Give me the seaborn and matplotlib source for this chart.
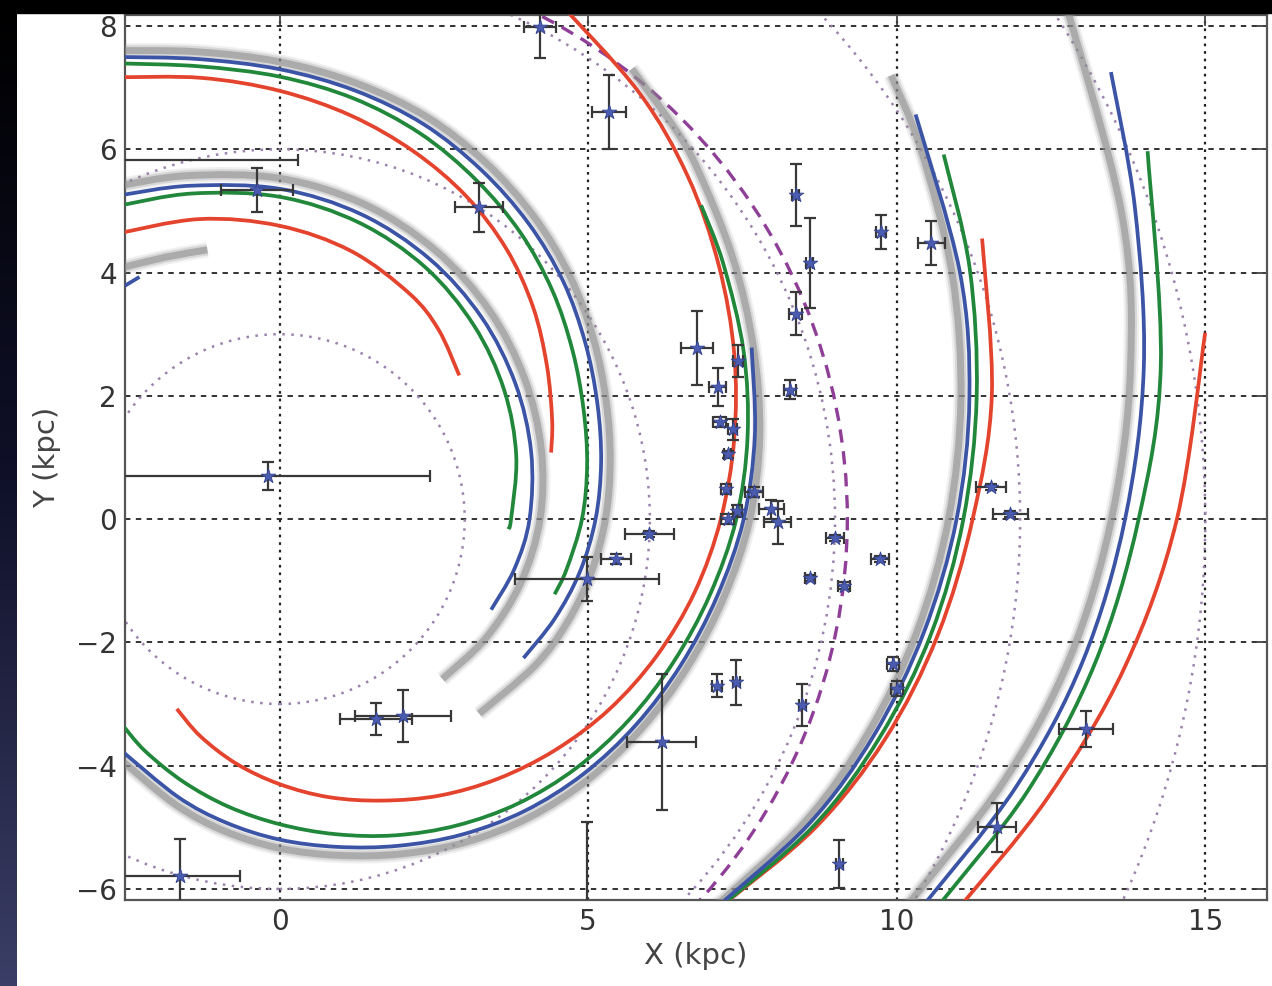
import numpy as np
import matplotlib
matplotlib.use("Agg")
import matplotlib.pyplot as plt
from matplotlib.patches import Circle, Rectangle, PathPatch
from matplotlib.path import Path
from matplotlib.colors import LinearSegmentedColormap
import seaborn as sns

# ---- spiral arm traces ----
# (azimuth in degrees from +X, galactocentric radius in kpc)
red_a = [(120, 5.34), (105, 5.04), (90, 4.76), (75, 4.5), (60, 4.22), (50, 4.01), (38.7, 3.73)]
green_a = [(117, 5.71), (105, 5.47), (90, 5.23), (75, 4.98), (60, 4.72), (45, 4.45), (30, 4.2),
           (15, 3.97), (0, 3.75), (-2.5, 3.71)]
blue_a = [(116, 5.85), (105, 5.6), (90, 5.36), (75, 5.12), (60, 4.87), (45, 4.63), (30, 4.41),
          (15, 4.22), (0, 4.05), (-12, 3.89), (-23.2, 3.73)]
gray_a = [(116, 6.01), (105, 5.77), (90, 5.53), (75, 5.29), (60, 5.04), (45, 4.8), (30, 4.58),
          (15, 4.39), (0, 4.22), (-15, 4.04), (-30, 3.86), (-44.5, 3.7)]

red_b = [(110, 7.63), (100, 7.27), (90, 6.95), (80, 6.65), (70, 6.35), (60, 6.05), (50, 5.72),
         (40, 5.36), (30, 5.0), (20, 4.7), (13.8, 4.53)]
green_b = [(109, 7.82), (100, 7.46), (90, 7.18), (80, 6.93), (70, 6.66), (60, 6.36), (50, 6.07),
           (40, 5.77), (30, 5.48), (20, 5.24), (10, 5.06), (0, 4.9), (-10, 4.72), (-15.3, 4.62)]
blue_b = [(109, 7.93), (100, 7.58), (90, 7.3), (80, 7.06), (70, 6.82), (60, 6.54), (50, 6.27),
          (40, 6.0), (30, 5.72), (20, 5.48), (10, 5.29), (0, 5.12), (-10, 4.94), (-20, 4.74),
          (-29.7, 4.55)]
gray_b = [(109, 8.04), (100, 7.7), (90, 7.42), (80, 7.18), (70, 6.95), (60, 6.68), (50, 6.41),
          (40, 6.14), (30, 5.87), (20, 5.63), (10, 5.44), (0, 5.28), (-10, 5.12), (-20, 4.95),
          (-30, 4.77), (-44.3, 4.52)]

red_c = [(62, 9.55), (50, 9.05), (40, 8.64), (30, 8.22), (20, 7.84), (10, 7.48), (0, 7.15),
         (-10, 6.83), (-20, 6.5), (-30, 6.17), (-40, 5.83), (-50, 5.5), (-60, 5.18), (-70, 4.86),
         (-80, 4.58), (-90, 4.3), (-100, 4.03), (-110, 3.75), (-118.4, 3.5)]
green_c = [(36.7, 8.52), (30, 8.3), (20, 8.0), (10, 7.7), (0, 7.4), (-10, 7.08), (-20, 6.79),
           (-30, 6.53), (-40, 6.28), (-50, 6.02), (-60, 5.74), (-70, 5.46), (-80, 5.19),
           (-90, 4.95), (-100, 4.74), (-110, 4.54), (-120, 4.35), (-127.3, 4.2)]
blue_c = [(20, 8.14), (10, 7.82), (0, 7.52), (-10, 7.2), (-20, 6.92), (-30, 6.67), (-40, 6.43),
          (-50, 6.18), (-60, 5.91), (-70, 5.64), (-80, 5.4), (-90, 5.2), (-100, 5.0), (-110, 4.8),
          (-124, 4.55)]
gray_c = [(52, 9.27), (45, 9.02), (40, 8.84), (30, 8.48), (20, 8.17), (10, 7.9), (0, 7.62),
          (-10, 7.31), (-20, 7.03), (-30, 6.78), (-40, 6.55), (-50, 6.31), (-60, 6.05),
          (-70, 5.78), (-80, 5.54), (-90, 5.34), (-100, 5.14), (-110, 4.93), (-123, 4.68)]

gray_d = [(36, 12.25), (30, 12.0), (20, 11.6), (10, 11.21), (0, 10.84), (-10, 10.49),
          (-20, 10.15), (-30, 9.83), (-42, 9.45)]
blue_d = [(32.5, 12.22), (20, 11.73), (10, 11.35), (0, 10.97), (-10, 10.6),
          (-20, 10.25), (-30, 9.9), (-42, 9.47)]
green_d = [(28.8, 12.28), (20, 11.9), (10, 11.47), (0, 11.08), (-10, 10.72), (-20, 10.35),
           (-30, 9.98), (-42, 9.5)]
red_d = [(21.8, 12.26), (10, 11.72), (0, 11.23), (-10, 10.83), (-20, 10.44),
         (-30, 10.02), (-41, 9.53)]

gray_e = [(34, 15.3), (20, 14.52), (10, 14.0), (0, 13.48), (-10, 13.0),
          (-20, 12.48), (-31.5, 11.95)]
blue_e = [(28.3, 15.3), (20, 14.75), (10, 14.22), (0, 13.7), (-10, 13.22), (-20, 12.7), (-31, 12.17)]
green_e = [(23, 15.28), (10, 14.5), (0, 13.92), (-10, 13.42), (-20, 12.9), (-30.5, 12.38)]
red_e = [(11.4, 15.3), (0, 14.54), (-10, 13.9), (-20, 13.24), (-29.5, 12.7)]

# short stubs entering at the left edge, (x, y) in kpc
gray_stub = [(-2.55, 4.08), (-1.85, 4.25), (-1.17, 4.37)]
blue_stub = [(-2.55, 3.76), (-2.27, 3.93)]

gray_arms = [gray_a, gray_b, gray_c, gray_d, gray_e]
red_arms = [red_a, red_b, red_c, red_d, red_e]
green_arms = [green_a, green_b, green_c, green_d, green_e]
blue_arms = [blue_a, blue_b, blue_c, blue_d, blue_e]

# reference circles around the Galactic centre (kpc)
dotted_radii = [3, 6, 9, 12, 15]
dashed_radius = 9.2

# maser sources: position and 1-sigma errors (kpc)
src_x = [4.22, 5.34, 3.23, -0.37, -3.3, -0.18, -1.61, 1.56, 2.0, 4.98, 5.45, 5.99, 6.77, 7.10,
         7.43, 7.13, 7.34, 7.26, 7.24, 7.26, 7.42, 7.69, 7.97, 8.07, 8.36, 8.59, 8.36, 8.27,
         9.75, 10.56, 9.00, 8.60, 9.15, 9.73, 11.53, 11.84, 9.94, 10.0, 7.09, 7.40, 8.47,
         6.19, 9.07, 4.98, 11.62, 13.07]
src_y = [7.98, 6.60, 5.06, 5.34, 5.83, 0.70, -5.79, -3.25, -3.2, -0.97, -0.65, -0.24, 2.78, 2.15,
         2.56, 1.57, 1.46, 1.05, 0.49, 0.0, 0.13, 0.44, 0.16, -0.05, 5.26, 4.16, 3.33, 2.10,
         4.66, 4.48, -0.31, -0.95, -1.08, -0.65, 0.52, 0.08, -2.35, -2.75, -2.70, -2.65, -3.01,
         -3.62, -5.60, -6.6, -5.0, -3.41]
src_xerr = [0.26, 0.27, 0.39, 0.58, 3.6, 2.62, 0.97, 0.58, 0.77, 1.17, 0.24, 0.4, 0.26, 0.14,
            0.08, 0.1, 0.08, 0.06, 0.08, 0.1, 0.08, 0.15, 0.2, 0.22, 0.06, 0.06, 0.1, 0.1,
            0.08, 0.22, 0.15, 0.08, 0.1, 0.15, 0.24, 0.28, 0.1, 0.1, 0.08, 0.06, 0.06,
            0.56, 0.06, 0.0, 0.31, 0.44]
src_yerr = [0.5, 0.6, 0.4, 0.36, 0.0, 0.23, 0.6, 0.26, 0.42, 0.36, 0.08, 0.05, 0.6, 0.31,
            0.26, 0.08, 0.17, 0.06, 0.08, 0.08, 0.1, 0.08, 0.15, 0.35, 0.5, 0.73, 0.35, 0.15,
            0.27, 0.35, 0.05, 0.05, 0.06, 0.05, 0.05, 0.05, 0.12, 0.12, 0.18, 0.36, 0.34,
            1.1, 0.39, 1.68, 0.4, 0.29]

x_ticks = [0, 5, 10, 15]
y_ticks = [-6, -4, -2, 0, 2, 4, 6, 8]

RED, GREEN, BLUE, GRAY = '#e4432d', '#21873b', '#3b54a6', '#8e8e8e'
PURPLE, DOT = '#8f3f98', '#9b82ad'

sns.set_theme(style="white")
plt.rcParams['font.family'] = ['DejaVu Sans']


def to_xy(arm):
    t = np.radians([a for a, _ in arm])
    r = np.array([b for _, b in arm])
    return np.column_stack([r * np.cos(t), r * np.sin(t)])


def arm_path(p):
    # smooth curve through the traced points (Catmull-Rom as cubic Bezier)
    p = np.asarray(p, float)
    ext = np.vstack([p[0], p, p[-1]])
    verts, codes = [p[0]], [Path.MOVETO]
    for i in range(len(p) - 1):
        c1 = ext[i + 1] + (ext[i + 2] - ext[i]) / 6
        c2 = ext[i + 2] - (ext[i + 3] - ext[i + 1]) / 6
        verts += [c1, c2, p[i + 1]]
        codes += [Path.CURVE4] * 3
    return Path(verts, codes)


def draw_arm(ax, pts, color, lw, alpha=1.0, z=3):
    ax.add_patch(PathPatch(arm_path(pts), fill=False, ec=color, lw=lw, alpha=alpha,
                           capstyle='butt', joinstyle='round', zorder=z))


def draw_gray(ax, pts):
    for lw, a in [(11, 0.13), (8, 0.25), (5, 0.6)]:
        draw_arm(ax, pts, GRAY, lw, a, z=3)


fig = plt.figure(figsize=(12.72, 9.86), dpi=100, facecolor='white')
ax = fig.add_axes([125.3 / 1272, 1 - 900 / 986, (1267 - 125.3) / 1272, (900 - 15) / 986])

# slide frame around the plot
strip = fig.add_axes([0, 0, 17 / 1272, 1])
strip.imshow(np.linspace(0, 1, 256).reshape(-1, 1), aspect='auto',
             cmap=LinearSegmentedColormap.from_list('frame', ['#000000', '#10112a', '#3b3e66']))
strip.set_axis_off()
fig.patches.append(Rectangle((0, 1 - 13 / 986), 1, 13 / 986, transform=fig.transFigure,
                             color='black', zorder=10))

for r in dotted_radii:
    ax.add_patch(Circle((0, 0), r, fill=False, ls=(0, (1, 2.6)), lw=1.8, ec=DOT, zorder=2))
ax.add_patch(Circle((0, 0), dashed_radius, fill=False, ls=(0, (4, 2.6)), lw=2.4, ec=PURPLE, zorder=2))

# blurred gray arms
for arm in gray_arms:
    draw_gray(ax, to_xy(arm))
draw_gray(ax, gray_stub)

for arms, col in [(red_arms, RED), (green_arms, GREEN), (blue_arms, BLUE)]:
    for arm in arms:
        draw_arm(ax, to_xy(arm), col, 2.7, 1.0, z=4)
draw_arm(ax, blue_stub, BLUE, 2.7, 1.0, z=4)

ax.errorbar(src_x, src_y, xerr=src_xerr, yerr=src_yerr, fmt='none', ecolor='#383838',
            elinewidth=1.6, capsize=4, capthick=1.6, zorder=5)
sns.scatterplot(x=src_x, y=src_y, marker='*', s=120, color='#4a5bb0', edgecolor='#34438f',
                linewidth=0.6, ax=ax, zorder=6)

ax.set_xlim(-2.5, 16)
ax.set_ylim(-6.18, 8.18)
ax.set_xticks(x_ticks)
ax.set_yticks(y_ticks)
ax.set_axisbelow(True)
ax.grid(axis='y', color='#222222', ls=(0, (3, 3)), lw=1.3)
ax.grid(axis='x', color='#222222', ls=(0, (1.2, 2.2)), lw=1.6)
ax.tick_params(direction='in', length=8, width=1.3, top=True, right=True,
               labelsize=20, labelcolor='#333333', color='#444444', pad=6)
for s in ax.spines.values():
    s.set_color('#555555')
    s.set_linewidth(1.6)

ax.set_xlabel('X (kpc)', fontsize=21, color='#444444')
ax.set_ylabel('Y (kpc)', fontsize=21, color='#444444')
ax.xaxis.set_label_coords(0.5, -0.048)
ax.yaxis.set_label_coords(-0.056, 0.5)

fig.savefig('out.png', dpi=100, facecolor='white')
